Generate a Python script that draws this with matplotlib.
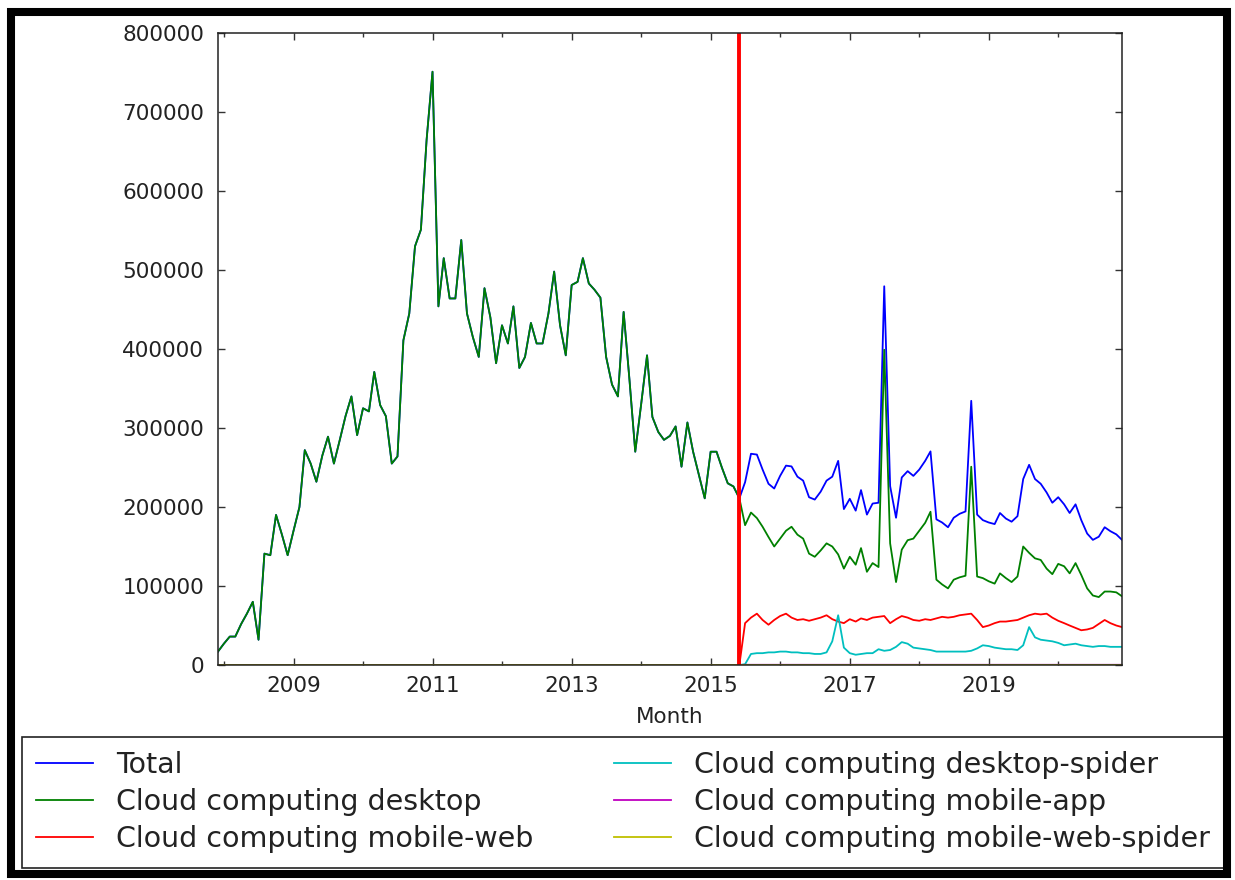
import matplotlib
matplotlib.use("Agg")
import matplotlib.pyplot as plt
import matplotlib.dates as mdates
import matplotlib.ticker as mticker
from matplotlib.patches import Rectangle
from datetime import datetime
import pandas as pd

# monthly pageviews, Dec 2007 .. Dec 2020
months = pd.date_range("2007-12-01", "2020-12-01", freq="MS")
api_switch = datetime(2015, 6, 1)

desktop = [
    17000, 27000, 36000, 36000, 52000, 65000, 80000, 32000, 141000, 139000,
    190000, 165000, 139000, 170000, 200000, 272000, 255000, 232000, 265000, 289000,
    255000, 285000, 315000, 340000, 291000, 325000, 321000, 371000, 329000, 315000,
    255000, 264000, 411000, 445000, 530000, 551000, 665000, 751000, 454000, 515000,
    464000, 464000, 538000, 445000, 415000, 390000, 477000, 440000, 382000, 430000,
    407000, 454000, 376000, 390000, 433000, 407000, 407000, 445000, 498000, 430000,
    392000, 481000, 485000, 515000, 483000, 475000, 465000, 390000, 355000, 340000,
    447000, 360000, 270000, 330000, 392000, 314000, 295000, 285000, 290000, 302000,
    251000, 307000, 270000, 240000, 211000, 270000, 270000, 250000, 230000, 226000,
    211000, 177000, 193000, 186000, 175000, 162000, 150000, 160000, 170000, 175000,
    165000, 160000, 141000, 137000, 145000, 154000, 150000, 140000, 122000, 137000,
    127000, 148000, 118000, 129000, 124000, 399000, 154000, 105000, 146000, 158000,
    160000, 170000, 180000, 194000, 108000, 102000, 97000, 108000, 111000, 113000,
    251000, 112000, 110000, 106000, 103000, 116000, 110000, 105000, 112000, 150000,
    142000, 135000, 133000, 122000, 115000, 128000, 125000, 116000, 129000, 114000,
    97000, 88000, 86000, 93000, 93000, 92000, 87000,
]

# the newer access types only exist from July 2015 on
before = [0] * 91

mobile_web = before + [
    53000, 60000, 65000, 57000, 51000, 57000, 62000, 65000, 60000, 57000,
    58000, 56000, 58000, 60000, 63000, 58000, 55000, 53000, 58000, 55000,
    59000, 57000, 60000, 61000, 62000, 53000, 58000, 62000, 60000, 57000,
    56000, 58000, 57000, 59000, 61000, 60000, 61000, 63000, 64000, 65000,
    57000, 48000, 50000, 53000, 55000, 55000, 56000, 57000, 60000, 63000,
    65000, 64000, 65000, 60000, 56000, 53000, 50000, 47000, 44000, 45000,
    47000, 52000, 57000, 53000, 50000, 48000,
]

desktop_spider = before + [
    1000, 14000, 15000, 15000, 16000, 16000, 17000, 17000, 16000, 16000,
    15000, 15000, 14000, 14000, 16000, 30000, 63000, 22000, 15000, 13000,
    14000, 15000, 15000, 20000, 18000, 19000, 23000, 29000, 27000, 22000,
    21000, 20000, 19000, 17000, 17000, 17000, 17000, 17000, 17000, 18000,
    21000, 25000, 24000, 22000, 21000, 20000, 20000, 19000, 25000, 48000,
    35000, 32000, 31000, 30000, 28000, 25000, 26000, 27000, 25000, 24000,
    23000, 24000, 24000, 23000, 23000, 23000,
]

mobile_app = before + [300] * 66
mobile_web_spider = before + [100] * 66

series = [
    ("Cloud computing desktop", desktop, "g"),
    ("Cloud computing mobile-web", mobile_web, "r"),
    ("Cloud computing desktop-spider", desktop_spider, "c"),
    ("Cloud computing mobile-app", mobile_app, "m"),
    ("Cloud computing mobile-web-spider", mobile_web_spider, "y"),
]
df = pd.DataFrame({name: vals for name, vals, _ in series}, index=months)
total = df.sum(axis=1)

plt.rcParams["font.family"] = "DejaVu Sans"
fig = plt.figure(figsize=(12.35, 8.8), dpi=100)
ax = fig.add_axes([0.1765, 0.2443, 0.732, 0.7182])

ax.plot(months, total, color="b", lw=1.3, label="Total")
for name, _, col in series:
    ax.plot(months, df[name], color=col, lw=1.3, label=name)
ax.axvline(api_switch, color="r", lw=2.8)

ax.set_xlim(months[0], months[-1])
ax.set_ylim(0, 800000)
ax.yaxis.set_major_locator(mticker.MultipleLocator(100000))
ax.yaxis.set_major_formatter(mticker.FuncFormatter(lambda v, p: "%d" % v))
ax.xaxis.set_major_locator(mticker.FixedLocator(
    mdates.date2num([datetime(y, 1, 1) for y in range(2009, 2021, 2)])))
ax.xaxis.set_minor_locator(mdates.YearLocator(1))
ax.xaxis.set_major_formatter(mdates.DateFormatter("%Y"))

ax.tick_params(which="both", direction="in", top=True, right=True,
               color="#333333", width=1)
ax.tick_params(which="major", length=5)
ax.tick_params(which="minor", length=3)
ax.tick_params(axis="y", labelsize=15.5, pad=10, labelcolor="#222222")
ax.tick_params(axis="x", which="major", labelsize=15.5, pad=8, labelcolor="#222222")
for s in ax.spines.values():
    s.set_color("#222222")
    s.set_linewidth(1.1)
ax.set_xlabel("Month", fontsize=15.5, color="#222222", labelpad=8)

leg = fig.legend(loc="upper left", bbox_to_anchor=(0.0178, 0.0136, 0.9733, 0.1489),
                 mode="expand", ncol=2, fontsize=20.5, handlelength=2.0,
                 handletextpad=0.8, labelspacing=0.32, borderpad=0.5,
                 borderaxespad=0, fancybox=False, framealpha=1,
                 edgecolor="#222222")
leg.get_frame().set_linewidth(1.2)
for t in leg.get_texts():
    t.set_color("#222222")

# heavy black frame round the whole figure
fig.patches.append(Rectangle((0.0089, 0.0068), 0.9846, 0.9796, transform=fig.transFigure,
                             fill=False, edgecolor="black", linewidth=5.8, zorder=10))

fig.savefig("out.png", dpi=100, facecolor="white")
